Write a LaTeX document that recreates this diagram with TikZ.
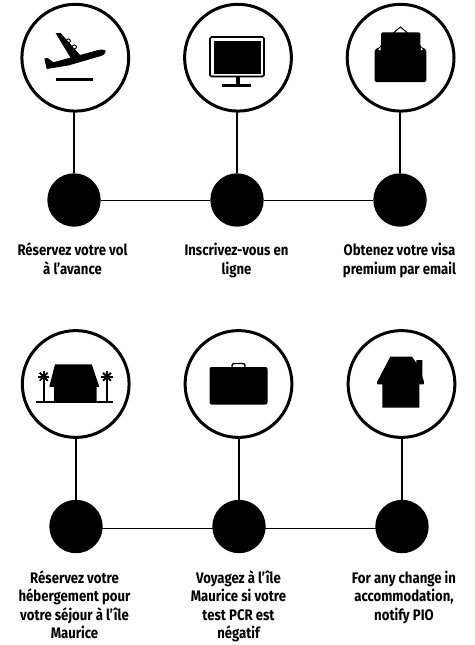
\documentclass[tikz,border=0pt]{standalone}
\usepackage{fontspec}
\setmainfont{Fira Sans}[BoldFont={Fira Sans Bold}]
\newfontfamily\lblfont{Fira Sans}[FakeStretch=0.86,UprightFont={* Bold}]
\tikzset{
  ring/.style={circle,draw=black,line width=3pt,fill=white,minimum size=106.8pt,inner sep=0pt,outer sep=0pt},
  dot/.style={circle,fill=black,minimum size=53.4pt,inner sep=0pt},
  link/.style={draw=black,line width=1.8pt},
  hlink/.style={draw=black,line width=1pt},
  lbl/.style={align=center,font=\lblfont\fontsize{15.3pt}{18.5pt}\selectfont,inner sep=0pt,anchor=north,text=black},
  ico/.style={fill=black,draw=none}
}
\begin{document}
\begin{tikzpicture}[x=1pt,y=-1pt]
\useasboundingbox (0,0) rectangle (474,645);
% rings and dots
\node[ring] (r1) at (75.3,57.7) {};
\node[ring] (r2) at (238,57.7) {};
\node[ring] (r3) at (400.6,57.7) {};
\node[ring] (r4) at (75.7,384) {};
\node[ring] (r5) at (238.5,384) {};
\node[ring] (r6) at (401.5,384) {};
\node[dot] (d1) at (74,200) {};
\node[dot] (d2) at (237,200) {};
\node[dot] (d3) at (400,200) {};
\node[dot] (d4) at (76,526.5) {};
\node[dot] (d5) at (239,526.5) {};
\node[dot] (d6) at (402,526.5) {};
\draw[link] (d1.north |- r1.south) -- (d1.north);
\draw[link] (d2.north |- r2.south) -- (d2.north);
\draw[link] (d3.north |- r3.south) -- (d3.north);
\draw[link] (d4.north |- r4.south) -- (d4.north);
\draw[link] (d5.north |- r5.south) -- (d5.north);
\draw[link] (d6.north |- r6.south) -- (d6.north);
\draw[hlink] (d1) -- (d2);
\draw[hlink] (d2) -- (d3);
\draw[hlink] ([yshift=-1.5pt]d4.center) -- ([yshift=-1.5pt]d5.center);
\draw[hlink] ([yshift=-1.5pt]d5.center) -- ([yshift=-1.5pt]d6.center);
% plane
\fill[ico] (55.7,33.3) -- (60.7,33) -- (80,55) -- (71,58.5) -- cycle;
\draw[black,line width=0.9pt] (68.3,41) circle (2.1pt) (74.3,47) circle (2.1pt);
\fill[ico] (44.3,58.5) -- (47.7,58) -- (53.3,62.3) -- (98.3,50) .. controls (103,49) and (106,50) .. (105.7,51.5) .. controls (105.5,54) and (103,55.5) .. (101,56) -- (68.3,65.5) -- (46.7,69) -- cycle;
\draw[black,line width=2.4pt] (55.5,79.5) -- (92.5,79.5);
% monitor
\draw[black,line width=1.6pt,rounded corners=1.5pt,fill=white] (210,37) rectangle (264,76.5);
\fill[ico] (213.5,40.5) rectangle (260.5,73.5);
\fill[ico] (236,76.5) rectangle (240,85);
\fill[ico] (222,84) rectangle (251,87);
% envelope
\draw[black,line width=1pt,fill=white] (400.4,27) -- (391,35) -- (410,35) -- cycle;
\fill[ico,rounded corners=1.5pt] (381,32.3) -- (420.3,32.3) -- (420.3,46.5) -- (426.3,49.5) -- (426.3,82) -- (374.7,82) -- (374.7,49.5) -- (381,46.5) -- cycle;
\fill[white] (380.5,47) -- (380.5,50.5) -- (378.3,49.7) -- cycle (420.8,47) -- (420.8,50.5) -- (423,49.7) -- cycle;
% beach house
\fill[ico] (55,364.3) -- (91.7,364.3) -- (99.3,386.7) -- (96.7,387) -- (96.7,402) -- (54,402) -- (54,387) -- (49.3,386.7) -- cycle;
\draw[black,line width=1.8pt] (36,402.3) -- (113,402.3);
\draw[black,line width=1.7pt] (43.7,378) -- (43.7,402) (107,378) -- (107,402);
\foreach \px in {43.7,107}{
  \foreach \a in {0,45,90,135}{
    \draw[black,line width=1.9pt] ([shift={(\a:5.6pt)}]\px,376.7) -- ([shift={(\a+180:5.6pt)}]\px,376.7);
  }
}
% suitcase
\fill[ico,rounded corners=2pt] (209.5,367) rectangle (267.5,404.5);
\draw[black,line width=1.4pt,rounded corners=2pt] (232,367) -- (232,363.5) -- (245,363.5) -- (245,367);
% house
\fill[ico] (390.3,356.7) -- (412,356.7) -- (416.3,363) -- (416.3,360) -- (422.3,360) -- (422.3,376) -- (424,382) -- (423.7,384.3) -- (419.3,384.3) -- (419.3,407.7) -- (382.3,407.7) -- (382.3,384.3) -- (377.3,384.3) -- (377,382) -- cycle;
% labels
\node[lbl] (t1) at (72.5,243) {Réservez votre vol\\à l’avance};
\node[lbl] (t2) at (236.5,243) {Inscrivez-vous en\\ligne};
\node[lbl] (t3) at (399.5,243) {Obtenez votre visa\\premium par email};
\node[lbl] (t4) at (74.5,570.5) {Réservez votre\\hébergement pour\\votre séjour à l’île\\Maurice};
\node[lbl] (t5) at (238.5,570.5) {Voyagez à l’île\\Maurice si votre\\test PCR est\\négatif};
\node[lbl] (t6) at (404,570.5) {For any change in\\accommodation,\\notify PIO};
\end{tikzpicture}
\end{document}
